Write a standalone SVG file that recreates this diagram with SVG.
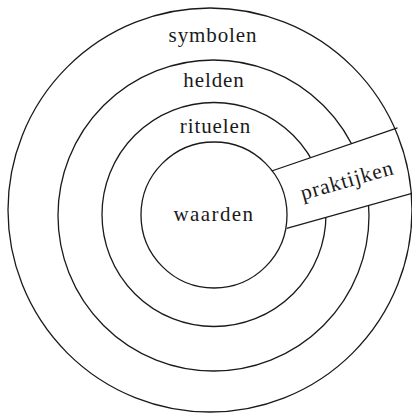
<svg xmlns="http://www.w3.org/2000/svg" width="412" height="417" viewBox="0 0 412 417">
<style>
.ring{fill:none;stroke:#1a1a1a;stroke-width:1.3}
.edge{stroke:#1a1a1a;stroke-width:1.3;fill:none}
.lbl{font-family:"Liberation Serif","Times New Roman",serif;font-size:21px;fill:#1a1a1a;text-anchor:middle;letter-spacing:0.9px}
</style>
<rect width="412" height="417" fill="#fff"/>
<g id="helden">
<circle class="ring" cx="213.5" cy="215.5" r="155.5"/>
<text class="lbl" x="214" y="87">helden</text>
</g>
<g id="rituelen">
<circle class="ring" cx="214" cy="214.5" r="112"/>
<text class="lbl" x="215.5" y="133">rituelen</text>
</g>
<g id="praktijken">
<polygon points="250,178.4 420,120.3 420,191.1 250,238.6" fill="#fff"/>
<text class="lbl" x="0" y="0" transform="translate(349,187) rotate(-16)" style="font-size:21.5px">praktijken</text>
</g>
<g id="symbolen">
<circle class="ring" cx="210" cy="210" r="202"/>
<text class="lbl" x="213" y="42">symbolen</text>
</g>
<g id="waarden">
<circle class="ring" cx="214" cy="215" r="73" fill="#fff"/>
<text class="lbl" x="214" y="221" style="letter-spacing:1.4px">waarden</text>
</g>
<g id="connectors">
<line class="edge" x1="271.7" y1="171" x2="397.5" y2="127.9"/>
<line class="edge" x1="286.7" y1="228.3" x2="412" y2="193.3"/>
</g>
</svg>
